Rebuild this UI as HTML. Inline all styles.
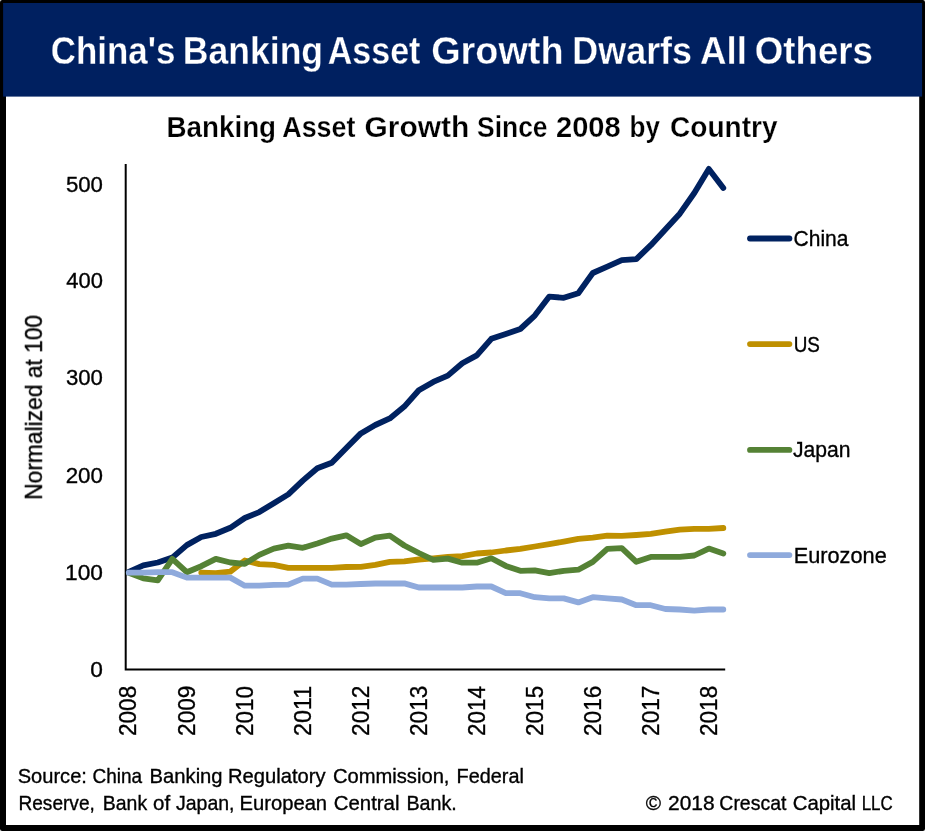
<!DOCTYPE html>
<html lang="en"><head><meta charset="utf-8"><title>China's Banking Asset Growth Dwarfs All Others</title>
<style>
html,body{margin:0;padding:0;background:#fff;}
svg{display:block;}
text{font-family:"Liberation Sans",sans-serif;}
.r text,text.r{stroke:#000;stroke-width:0.35px;}
.t text{stroke:#002060;stroke-width:0.3px;}
.s text{stroke:#fff;stroke-width:0.25px;}
</style></head><body>
<svg width="925" height="831" viewBox="0 0 925 831">
<rect x="0" y="0" width="925" height="831" rx="2.2" ry="2.2" fill="#000"/>
<rect x="6" y="96" width="913.2" height="729" fill="#fff"/>
<rect x="3.1" y="3" width="919" height="93.6" fill="#002060"/>
<defs><filter id="soft" filterUnits="userSpaceOnUse" x="0" y="0" width="925" height="831"><feGaussianBlur stdDeviation="0.45"/></filter></defs>
<g filter="url(#soft)">
<g class="t">
<text y="64.0" font-size="38.40" font-weight="bold" fill="#fff"><tspan x="50.70" textLength="124.67" lengthAdjust="spacingAndGlyphs">China&#39;s</tspan> <tspan x="182.79" textLength="140.32" lengthAdjust="spacingAndGlyphs">Banking</tspan> <tspan x="327.75" textLength="92.63" lengthAdjust="spacingAndGlyphs">Asset</tspan> <tspan x="431.19" textLength="132.37" lengthAdjust="spacingAndGlyphs">Growth</tspan> <tspan x="572.37" textLength="119.65" lengthAdjust="spacingAndGlyphs">Dwarfs</tspan> <tspan x="700.08" textLength="46.79" lengthAdjust="spacingAndGlyphs">All</tspan> <tspan x="754.83" textLength="118.17" lengthAdjust="spacingAndGlyphs">Others</tspan></text>
</g>
<g class="s">
<text y="137.3" font-size="30.40" font-weight="bold" fill="#000"><tspan x="166.49" textLength="109.61" lengthAdjust="spacingAndGlyphs">Banking</tspan> <tspan x="282.33" textLength="73.07" lengthAdjust="spacingAndGlyphs">Asset</tspan> <tspan x="364.60" textLength="104.68" lengthAdjust="spacingAndGlyphs">Growth</tspan> <tspan x="477.07" textLength="70.50" lengthAdjust="spacingAndGlyphs">Since</tspan> <tspan x="556.06" textLength="64.61" lengthAdjust="spacingAndGlyphs">2008</tspan> <tspan x="629.51" textLength="30.41" lengthAdjust="spacingAndGlyphs">by</tspan> <tspan x="670.08" textLength="107.51" lengthAdjust="spacingAndGlyphs">Country</tspan></text>
</g>
<g fill="#000" class="r">
<text x="90.35" y="677.2" font-size="22.50" textLength="12.63" lengthAdjust="spacingAndGlyphs">0</text>
<text x="65.10" y="579.6" font-size="22.50" textLength="37.88" lengthAdjust="spacingAndGlyphs">100</text>
<text x="65.68" y="482.5" font-size="22.50" textLength="37.28" lengthAdjust="spacingAndGlyphs">200</text>
<text x="65.97" y="385.3" font-size="22.50" textLength="36.98" lengthAdjust="spacingAndGlyphs">300</text>
<text x="66.31" y="288.2" font-size="22.50" textLength="36.64" lengthAdjust="spacingAndGlyphs">400</text>
<text x="65.91" y="191.8" font-size="22.50" textLength="37.04" lengthAdjust="spacingAndGlyphs">500</text>
</g>
<text class="r" transform="translate(41.9,498.4) rotate(-90)" x="-1.42" font-size="23.20" textLength="184.89" lengthAdjust="spacingAndGlyphs">Normalized at 100</text>
<path d="M125.7 164 V669.6 H725.2" fill="none" stroke="#000" stroke-width="2"/>
<g fill="none" stroke-width="5.8" stroke-linecap="round" stroke-linejoin="round">
<polyline stroke="#002060" points="128.8,571.9 143.3,565.4 157.8,562.5 172.3,557.6 186.8,545.1 201.3,537.0 215.8,533.8 230.3,527.8 244.8,518.0 259.3,512.1 273.8,503.3 288.3,494.4 302.8,480.6 317.3,468.3 331.8,462.7 346.3,448.0 360.8,433.4 375.3,425.0 389.8,418.4 404.3,406.6 418.8,390.3 433.3,381.9 447.8,375.6 462.3,363.3 476.8,355.4 491.3,338.8 505.8,334.0 520.3,329.0 534.8,315.6 549.3,296.6 563.8,297.8 578.3,293.2 592.8,273.0 607.3,266.6 621.8,260.1 636.3,259.2 650.8,245.2 665.3,229.5 679.8,213.7 694.3,193.0 708.8,168.9 723.3,187.9"/>
<polyline stroke="#BF9000" points="201.3,572.7 215.8,573.2 230.3,571.6 244.8,560.5 259.3,564.1 273.8,564.9 288.3,567.8 302.8,567.8 317.3,567.8 331.8,567.8 346.3,567.0 360.8,566.8 375.3,564.9 389.8,561.9 404.3,561.3 418.8,559.5 433.3,558.3 447.8,557.0 462.3,556.2 476.8,553.5 491.3,552.5 505.8,550.5 520.3,548.9 534.8,546.5 549.3,544.1 563.8,541.6 578.3,538.9 592.8,537.6 607.3,535.6 621.8,535.9 636.3,535.0 650.8,533.8 665.3,531.7 679.8,529.7 694.3,528.9 708.8,528.9 723.3,528.0"/>
<polyline stroke="#548235" points="128.8,572.7 143.3,578.4 157.8,580.3 172.3,558.9 186.8,572.2 201.3,566.2 215.8,558.9 230.3,562.5 244.8,563.8 259.3,554.9 273.8,548.6 288.3,545.7 302.8,547.8 317.3,543.5 331.8,538.6 346.3,535.3 360.8,544.1 375.3,537.6 389.8,535.7 404.3,545.5 418.8,553.0 433.3,559.9 447.8,558.6 462.3,562.7 476.8,562.7 491.3,558.3 505.8,565.9 520.3,570.8 534.8,570.3 549.3,573.2 563.8,570.8 578.3,569.7 592.8,561.9 607.3,548.9 621.8,548.1 636.3,561.8 650.8,556.9 665.3,556.9 679.8,556.9 694.3,555.5 708.8,548.6 723.3,553.5"/>
<polyline stroke="#8FAADC" points="128.8,572.7 143.3,572.7 157.8,572.2 172.3,572.2 186.8,577.6 201.3,577.6 215.8,577.6 230.3,577.6 244.8,585.7 259.3,585.7 273.8,584.8 288.3,584.6 302.8,578.6 317.3,578.6 331.8,584.6 346.3,584.6 360.8,584.0 375.3,583.5 389.8,583.5 404.3,583.4 418.8,587.5 433.3,587.5 447.8,587.5 462.3,587.5 476.8,586.5 491.3,586.5 505.8,593.2 520.3,593.2 534.8,597.2 549.3,598.4 563.8,598.4 578.3,602.4 592.8,597.2 607.3,598.4 621.8,599.5 636.3,605.2 650.8,605.2 665.3,609.0 679.8,609.5 694.3,610.6 708.8,609.5 723.3,609.5"/>
</g>
<g fill="#000" class="r">
<text transform="translate(136.4,735.2) rotate(-90)" x="-0.73" font-size="23.20" textLength="50.08" lengthAdjust="spacingAndGlyphs">2008</text>
<text transform="translate(194.5,735.2) rotate(-90)" x="-0.73" font-size="23.20" textLength="50.19" lengthAdjust="spacingAndGlyphs">2009</text>
<text transform="translate(252.6,735.2) rotate(-90)" x="-0.72" font-size="23.20" textLength="50.02" lengthAdjust="spacingAndGlyphs">2010</text>
<text transform="translate(310.6,735.2) rotate(-90)" x="-0.77" font-size="23.20" textLength="50.29" lengthAdjust="spacingAndGlyphs">2011</text>
<text transform="translate(368.7,735.2) rotate(-90)" x="-0.73" font-size="23.20" textLength="50.25" lengthAdjust="spacingAndGlyphs">2012</text>
<text transform="translate(426.8,735.2) rotate(-90)" x="-0.73" font-size="23.20" textLength="50.13" lengthAdjust="spacingAndGlyphs">2013</text>
<text transform="translate(484.9,735.2) rotate(-90)" x="-0.72" font-size="23.20" textLength="49.78" lengthAdjust="spacingAndGlyphs">2014</text>
<text transform="translate(543.0,735.2) rotate(-90)" x="-0.73" font-size="23.20" textLength="50.08" lengthAdjust="spacingAndGlyphs">2015</text>
<text transform="translate(601.0,735.2) rotate(-90)" x="-0.73" font-size="23.20" textLength="50.13" lengthAdjust="spacingAndGlyphs">2016</text>
<text transform="translate(659.1,735.2) rotate(-90)" x="-0.73" font-size="23.20" textLength="50.25" lengthAdjust="spacingAndGlyphs">2017</text>
<text transform="translate(717.2,735.2) rotate(-90)" x="-0.73" font-size="23.20" textLength="50.08" lengthAdjust="spacingAndGlyphs">2018</text>
</g>
<g class="r">
<line x1="750" y1="238.5" x2="789.4" y2="238.5" stroke="#002060" stroke-width="5.8" stroke-linecap="round"/>
<text x="793.55" y="246.0" font-size="22.50" textLength="54.91" lengthAdjust="spacingAndGlyphs">China</text>
<line x1="750" y1="344.1" x2="789.4" y2="344.1" stroke="#BF9000" stroke-width="5.8" stroke-linecap="round"/>
<text x="793.68" y="351.6" font-size="22.50" textLength="26.25" lengthAdjust="spacingAndGlyphs">US</text>
<line x1="750" y1="449.9" x2="789.4" y2="449.9" stroke="#548235" stroke-width="5.8" stroke-linecap="round"/>
<text x="792.98" y="457.4" font-size="22.50" textLength="57.58" lengthAdjust="spacingAndGlyphs">Japan</text>
<line x1="750" y1="555.1" x2="789.4" y2="555.1" stroke="#8FAADC" stroke-width="5.8" stroke-linecap="round"/>
<text x="793.66" y="562.6" font-size="22.50" textLength="93.08" lengthAdjust="spacingAndGlyphs">Eurozone</text>
</g>
<g class="r">
<text y="782.7" font-size="20.20" font-weight="normal" fill="#000"><tspan x="17.70" textLength="69.24" lengthAdjust="spacingAndGlyphs">Source:</tspan> <tspan x="92.45" textLength="49.61" lengthAdjust="spacingAndGlyphs">China</tspan> <tspan x="149.58" textLength="73.01" lengthAdjust="spacingAndGlyphs">Banking</tspan> <tspan x="227.99" textLength="97.54" lengthAdjust="spacingAndGlyphs">Regulatory</tspan> <tspan x="332.89" textLength="116.60" lengthAdjust="spacingAndGlyphs">Commission,</tspan> <tspan x="456.61" textLength="67.29" lengthAdjust="spacingAndGlyphs">Federal</tspan></text>
<text y="809.9" font-size="20.20" font-weight="normal" fill="#000"><tspan x="18.47" textLength="76.32" lengthAdjust="spacingAndGlyphs">Reserve,</tspan> <tspan x="102.85" textLength="44.29" lengthAdjust="spacingAndGlyphs">Bank</tspan> <tspan x="153.08" textLength="17.10" lengthAdjust="spacingAndGlyphs">of</tspan> <tspan x="176.01" textLength="58.50" lengthAdjust="spacingAndGlyphs">Japan,</tspan> <tspan x="239.59" textLength="87.52" lengthAdjust="spacingAndGlyphs">European</tspan> <tspan x="333.78" textLength="65.72" lengthAdjust="spacingAndGlyphs">Central</tspan> <tspan x="406.43" textLength="50.34" lengthAdjust="spacingAndGlyphs">Bank.</tspan></text>
<text y="809.6" font-size="20.20" font-weight="normal" fill="#000"><tspan x="645.79" textLength="15.31" lengthAdjust="spacingAndGlyphs">©</tspan> <tspan x="668.05" textLength="46.53" lengthAdjust="spacingAndGlyphs">2018</tspan> <tspan x="719.33" textLength="67.08" lengthAdjust="spacingAndGlyphs">Crescat</tspan> <tspan x="792.78" textLength="63.35" lengthAdjust="spacingAndGlyphs">Capital</tspan> <tspan x="861.64" textLength="31.08" lengthAdjust="spacingAndGlyphs">LLC</tspan></text>
</g>
</g>
</svg>
</body></html>
